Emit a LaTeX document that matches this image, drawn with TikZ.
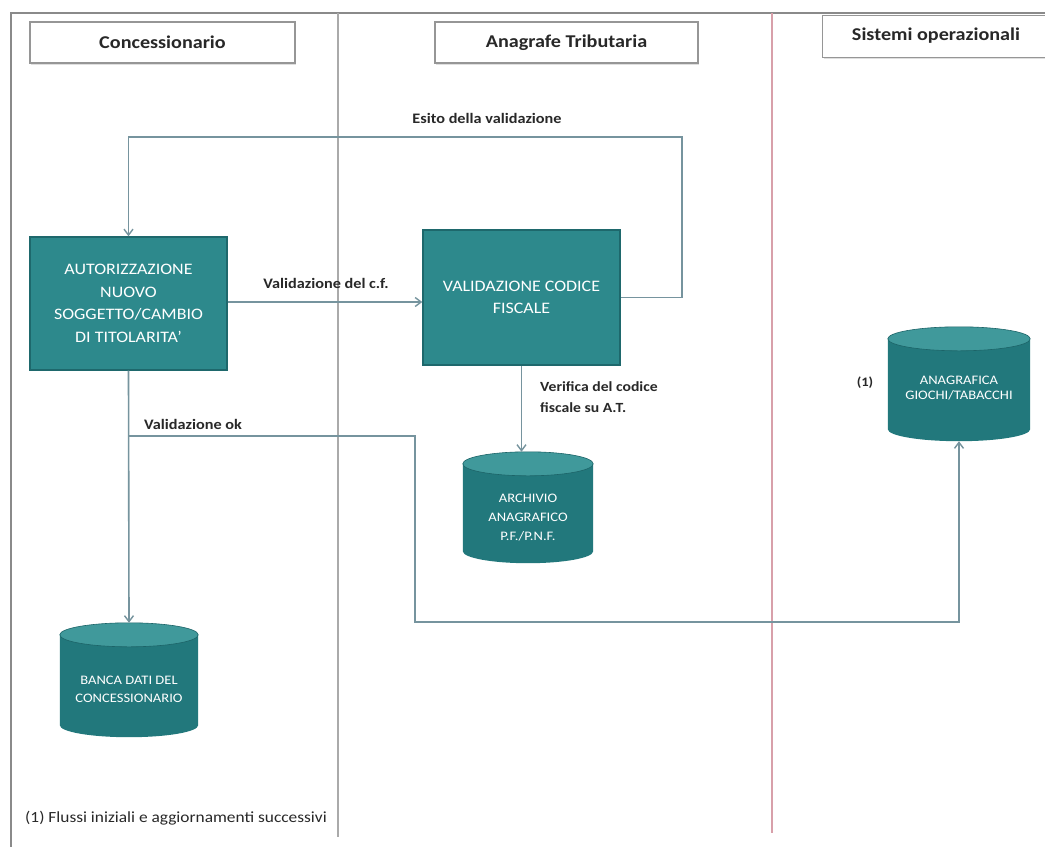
\documentclass[tikz,border=0pt]{standalone}
\usepackage{fontspec}
\setmainfont{Carlito}[FakeStretch=1.12]
\usetikzlibrary{arrows.meta,calc,shadows}

\definecolor{tealfill}{RGB}{45,137,140}
\definecolor{tealedge}{RGB}{30,104,108}
\definecolor{dbbody}{RGB}{34,120,124}
\definecolor{dbcap}{RGB}{64,153,155}
\definecolor{dbrim}{RGB}{28,100,104}
\definecolor{flow}{RGB}{118,148,158}
\definecolor{frame}{RGB}{138,138,138}
\definecolor{laneA}{RGB}{170,170,170}
\definecolor{laneB}{RGB}{216,160,170}
\definecolor{hdredge}{RGB}{150,150,150}
\definecolor{txt}{RGB}{40,40,40}

\tikzset{
  hdr/.style={draw=hdredge, line width=1.1pt, fill=white, inner sep=0pt,
    drop shadow={opacity=0.25, shadow xshift=1pt, shadow yshift=-1.5pt},
    font=\bfseries\fontsize{18}{21}\selectfont, text=txt},
  proc/.style={draw=tealedge, line width=1.4pt, fill=tealfill, inner sep=0pt,
    align=center, text=white, font=\fontsize{16}{22.5}\selectfont},
  dbnode/.style={inner sep=0pt},
  dbtext/.style={align=center, text=white, inner sep=0pt},
  flowlbl/.style={font=\bfseries\fontsize{14.5}{20}\selectfont, text=txt, inner sep=0pt},
  flowline/.style={draw=flow, line width=1.6pt},
  arr/.style={flowline, -{Straight Barb[length=6pt,width=9pt,line width=1.4pt]}},
}

% database symbol drawn over the extent of a named node: body, then lighter lid
\newcommand\dbdraw[1]{%
  \path let \p1=(#1.north west), \p2=(#1.south east), \n1={(\x2-\x1)/2} in
    [fill=dbbody] (\x1,\y1-12pt) -- (\x1,\y2+12pt)
      arc[start angle=180, end angle=360, x radius=\n1, y radius=12pt]
      -- (\x2,\y1-12pt) -- cycle;
  \path let \p1=(#1.north west), \p2=(#1.south east), \n1={(\x2-\x1)/2} in
    [fill=dbcap, draw=dbrim, line width=0.6pt]
      ({(\x1+\x2)/2},{\y1-12pt}) ellipse[x radius=\n1, y radius=12pt];
}

\begin{document}
\begin{tikzpicture}[x=1pt, y=-1pt]
\clip (0,0) rectangle (1045,847);
\fill[white] (0,0) rectangle (1045,847);

% swimlane frame
\draw[frame, line width=2pt] (10,13) -- (1045,13);
\draw[frame, line width=2pt] (11,13) -- (11,847);
\draw[laneA, line width=1.2pt] (338,13) -- (338,837);
\draw[laneB, line width=1.6pt] (772,13) -- (772,833);

% lane headers
\node[hdr, minimum width=265, minimum height=41] (h1) at (162.5,42.5) {Concessionario};
\node[hdr, minimum width=263, minimum height=41] (h2) at (566.5,42.5) {Anagrafe Tributaria};
\node[hdr, minimum width=240, minimum height=42, anchor=north west] (h3) at (822,15) {};
\node[font=\bfseries\fontsize{18}{21}\selectfont, text=txt] (h3t) at (936,36) {Sistemi operazionali};

% process boxes
\node[proc, minimum width=197, minimum height=133] (A) at (128.5,303.5)
  {AUTORIZZAZIONE\\NUOVO\\SOGGETTO/CAMBIO\\DI TITOLARITA'};
\node[proc, minimum width=197, minimum height=135] (V) at (521.5,297.5)
  {VALIDAZIONE CODICE\\FISCALE};

% databases
\node[dbnode, minimum width=138, minimum height=114] (B) at (129,680) {};
\node[dbnode, minimum width=130, minimum height=111] (R) at (528,507.5) {};
\node[dbnode, minimum width=142, minimum height=114] (G) at (959,384) {};
\dbdraw{B}
\dbdraw{R}
\dbdraw{G}
\node[dbtext, font=\fontsize{13}{18}\selectfont] (Bt) at ([yshift=-9pt]B.center)
  {BANCA DATI DEL\\CONCESSIONARIO};
\node[dbtext, font=\fontsize{13}{19}\selectfont] (Rt) at ([yshift=-10pt]R.center)
  {ARCHIVIO\\ANAGRAFICO\\P.F./P.N.F.};
\node[dbtext, font=\fontsize{13}{15}\selectfont] (Gt) at ([yshift=-4pt]G.center)
  {ANAGRAFICA\\GIOCHI/TABACCHI};

% routing points
\coordinate (loopR) at (682,137);
\coordinate (okS) at (128,436);
\coordinate (okT) at (415,436);
\coordinate (okB) at (415,622);

% connectors
\draw[arr] (A.east |- 0,302) -- (V.west |- 0,302);
\draw[arr] (V.east) -| (loopR) -| (A.north);
\draw[arr] (A.south) -- (B.north);
\draw[arr] (okS) -- (okT) -- (okB) -| (G.south);
\draw[arr] (V.south) -- (V.south |- R.north);

% connector labels
\node[flowlbl] (l1) at (487,118) {Esito della validazione};
\node[flowlbl] (l2) at (326,283) {Validazione del c.f.};
\node[flowlbl] (l3) at (193,424) {Validazione ok};
\node[flowlbl, align=left, anchor=north west, font=\bfseries\fontsize{14}{21}\selectfont]
  (l4) at (540,381) {Verifica del codice\\fiscale su A.T.};
\node[flowlbl, font=\bfseries\fontsize{13}{16}\selectfont] (l5) at (865,383) {(1)};

% footnote
\node[anchor=west, inner sep=0pt, text=txt, font=\fontsize{15.5}{18}\selectfont]
  (foot) at (25,818) {(1) Flussi iniziali e aggiornamenti successivi};
\end{tikzpicture}
\end{document}
